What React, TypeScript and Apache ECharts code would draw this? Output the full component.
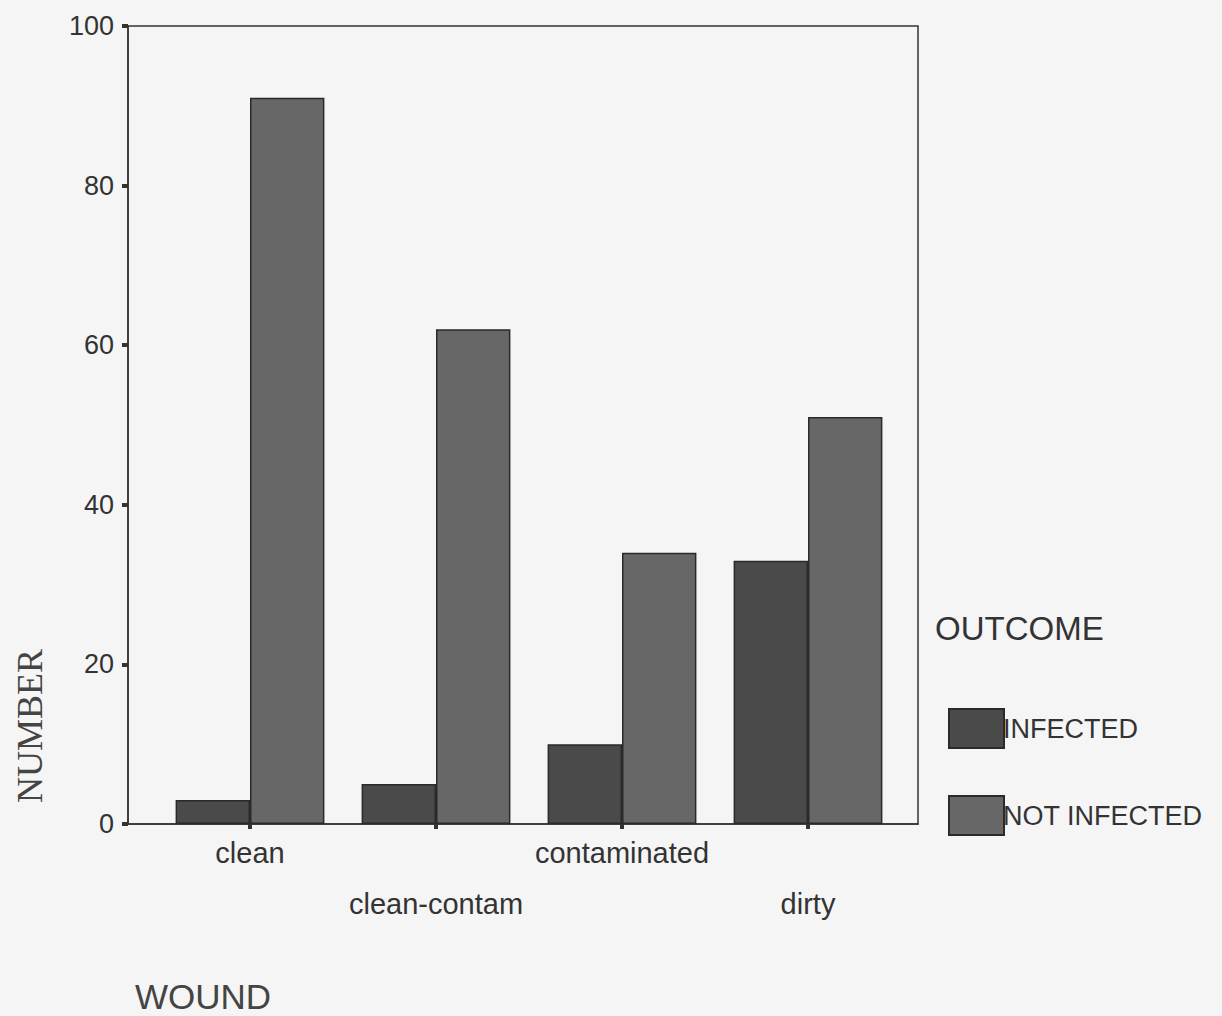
import React, { useEffect, useRef } from "react";
import * as echarts from "echarts";

const categories = ["clean", "clean-contam", "contaminated", "dirty"];
const infected = [3, 5, 10, 33];
const notInfected = [91, 62, 34, 51];
const seriesNames = ["INFECTED", "NOT INFECTED"];

export default function App() {
  const ref = useRef<HTMLDivElement>(null);
  useEffect(() => {
    if (!ref.current) return;
    const chart = echarts.init(ref.current, null, { renderer: "svg" });
    const font = "Liberation Sans, Arial, sans-serif";
    chart.setOption({
      animation: false,
      backgroundColor: "#f5f5f5",
      grid: [
        {
          left: 128,
          top: 26,
          right: 304,
          bottom: 192,
          show: true,
          borderColor: "#333",
          borderWidth: 1.5,
        },
        {
          left: 157,
          top: 26,
          right: 321,
          bottom: 192,
        },
      ],
      legend: {
        orient: "vertical",
        left: 943,
        top: 703,
        itemWidth: 55,
        itemHeight: 39,
        itemGap: 46,
        data: seriesNames,
        icon: "rect",
        textStyle: { fontFamily: font, fontSize: 27, color: "#333", padding: [0, 0, 0, -6] },
      },
      graphic: [
        {
          type: "text",
          left: 935,
          top: 612,
          style: { text: "OUTCOME", font: `33px ${font}`, fill: "#333" },
        },
        {
          type: "text",
          left: 135,
          top: 979,
          style: { text: "WOUND", font: `35px ${font}`, fill: "#444" },
        },
        {
          type: "text",
          x: 12,
          y: 803,
          rotation: Math.PI / 2,
          style: {
            text: "NUMBER",
            font: `36px "Liberation Serif", "Times New Roman", serif`,
            fill: "#444",
            verticalAlign: "top",
            align: "left",
          },
        },
      ],
      xAxis: [
        {
          gridIndex: 0,
          type: "value",
          min: 0,
          max: 1,
          show: true,
          axisLine: { show: true, onZero: false, lineStyle: { color: "#333", width: 1.5 } },
          axisTick: { show: false },
          axisLabel: { show: false },
          splitLine: { show: false },
        },
        {
          gridIndex: 1,
          type: "category",
          data: categories,
          axisLine: { show: false },
          axisTick: { show: true, alignWithLabel: true, length: 5, lineStyle: { color: "#333", width: 4 } },
          axisLabel: {
            fontFamily: font,
            fontSize: 29,
            color: "#333",
            margin: 3,
            lineHeight: 51,
            interval: 0,
            formatter: (v: string, i: number) => (i % 2 === 1 ? "\n" + v : v),
          },
        },
      ],
      yAxis: [
        {
          gridIndex: 0,
          type: "value",
          min: 0,
          max: 100,
          interval: 20,
          splitLine: { show: false },
          axisLine: { show: true, lineStyle: { color: "#333", width: 1.5 } },
          axisTick: { show: true, length: 6, lineStyle: { color: "#333", width: 4 } },
          axisLabel: { fontFamily: font, fontSize: 27, color: "#333", margin: 14 },
        },
        {
          gridIndex: 1,
          type: "value",
          min: 0,
          max: 100,
          interval: 20,
          show: false,
          splitLine: { show: false },
        },
      ],
      series: [
        {
          name: seriesNames[0],
          type: "bar",
          xAxisIndex: 1,
          yAxisIndex: 1,
          data: infected,
          barGap: "0%",
          barCategoryGap: "20%",
          itemStyle: { color: "#4a4a4a", borderColor: "#2a2a2a", borderWidth: 1.5 },
        },
        {
          name: seriesNames[1],
          type: "bar",
          xAxisIndex: 1,
          yAxisIndex: 1,
          data: notInfected,
          barGap: "0%",
          barCategoryGap: "20%",
          itemStyle: { color: "#676767", borderColor: "#2a2a2a", borderWidth: 1.5 },
        },
      ],
    });
    return () => chart.dispose();
  }, []);
  return (
    <div
      ref={ref}
      style={{ position: "fixed", left: 0, top: 0, width: 1222, height: 1016 }}
    />
  );
}
